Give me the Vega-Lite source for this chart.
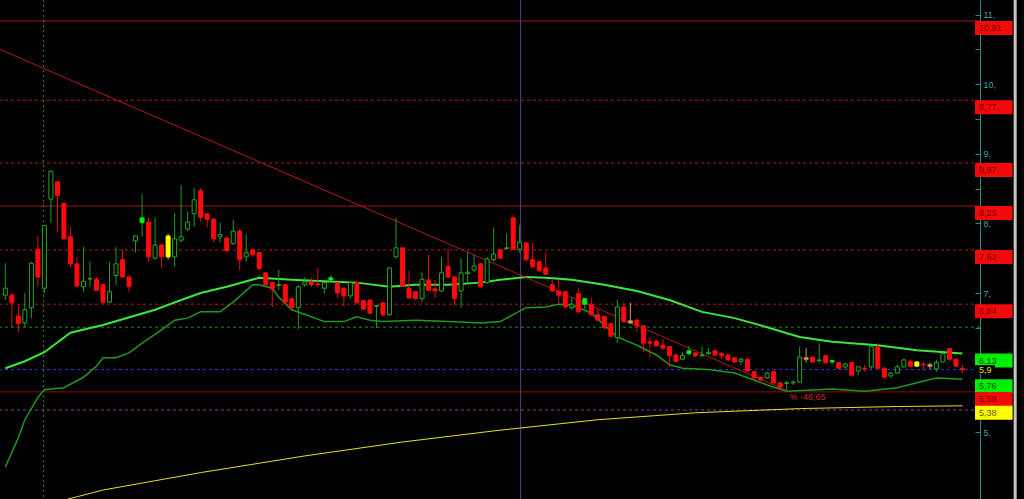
{
  "$schema": "https://vega.github.io/schema/vega-lite/v6.json",
  "width": 980,
  "height": 499,
  "autosize": {"type": "none"},
  "padding": {"left": 0, "top": 0, "right": 44, "bottom": 0},
  "background": "#000000",
  "config": {"view": {"stroke": null}, "text": {"font": "Liberation Sans"}},
  "datasets": {
    "levels": [
      {"price": 10.91, "kind": "major"},
      {"price": 9.77, "kind": "minor"},
      {"price": 8.87, "kind": "minor"},
      {"price": 8.25, "kind": "major"},
      {"price": 7.62, "kind": "minor"},
      {"price": 6.84, "kind": "minor"},
      {"price": 6.51, "kind": "mid"},
      {"price": 5.9, "kind": "last"},
      {"price": 5.58, "kind": "low"},
      {"price": 5.32, "kind": "floor"}
    ],
    "markers": [
      {"day": 5.88, "kind": "session"},
      {"day": 79.15, "kind": "cursor"}
    ],
    "averages": [
      {"day": 0, "value": 5.92, "series": "MA50"}, {"day": 3, "value": 6.02, "series": "MA50"},
      {"day": 6, "value": 6.15, "series": "MA50"}, {"day": 10, "value": 6.43, "series": "MA50"},
      {"day": 15, "value": 6.54, "series": "MA50"}, {"day": 23, "value": 6.76, "series": "MA50"},
      {"day": 27, "value": 6.9, "series": "MA50"}, {"day": 30, "value": 7.0, "series": "MA50"},
      {"day": 34, "value": 7.09, "series": "MA50"}, {"day": 39, "value": 7.22, "series": "MA50"},
      {"day": 44, "value": 7.19, "series": "MA50"}, {"day": 49, "value": 7.17, "series": "MA50"},
      {"day": 54, "value": 7.15, "series": "MA50"}, {"day": 59, "value": 7.09, "series": "MA50"},
      {"day": 63, "value": 7.12, "series": "MA50"}, {"day": 68, "value": 7.12, "series": "MA50"},
      {"day": 73, "value": 7.15, "series": "MA50"}, {"day": 76, "value": 7.19, "series": "MA50"},
      {"day": 80, "value": 7.23, "series": "MA50"}, {"day": 83, "value": 7.22, "series": "MA50"},
      {"day": 87, "value": 7.19, "series": "MA50"}, {"day": 92, "value": 7.12, "series": "MA50"},
      {"day": 97, "value": 7.03, "series": "MA50"}, {"day": 102, "value": 6.9, "series": "MA50"},
      {"day": 107, "value": 6.73, "series": "MA50"}, {"day": 112, "value": 6.64, "series": "MA50"},
      {"day": 117, "value": 6.51, "series": "MA50"}, {"day": 122, "value": 6.37, "series": "MA50"},
      {"day": 127, "value": 6.3, "series": "MA50"}, {"day": 134, "value": 6.25, "series": "MA50"},
      {"day": 140, "value": 6.18, "series": "MA50"}, {"day": 147, "value": 6.13, "series": "MA50"},

      {"day": 0, "value": 4.5, "series": "Low band"}, {"day": 2, "value": 4.92, "series": "Low band"},
      {"day": 3, "value": 5.18, "series": "Low band"}, {"day": 5, "value": 5.5, "series": "Low band"},
      {"day": 6, "value": 5.61, "series": "Low band"}, {"day": 9, "value": 5.64, "series": "Low band"},
      {"day": 12, "value": 5.79, "series": "Low band"}, {"day": 14, "value": 5.95, "series": "Low band"},
      {"day": 15, "value": 6.07, "series": "Low band"}, {"day": 17, "value": 6.07, "series": "Low band"},
      {"day": 19, "value": 6.14, "series": "Low band"}, {"day": 21, "value": 6.28, "series": "Low band"},
      {"day": 24, "value": 6.47, "series": "Low band"}, {"day": 26, "value": 6.61, "series": "Low band"},
      {"day": 28, "value": 6.64, "series": "Low band"}, {"day": 30, "value": 6.73, "series": "Low band"},
      {"day": 33, "value": 6.73, "series": "Low band"}, {"day": 35, "value": 6.87, "series": "Low band"},
      {"day": 38, "value": 7.12, "series": "Low band"}, {"day": 39, "value": 7.12, "series": "Low band"},
      {"day": 41, "value": 7.07, "series": "Low band"}, {"day": 42, "value": 6.94, "series": "Low band"},
      {"day": 44, "value": 6.76, "series": "Low band"}, {"day": 47, "value": 6.66, "series": "Low band"},
      {"day": 49, "value": 6.59, "series": "Low band"}, {"day": 52, "value": 6.59, "series": "Low band"},
      {"day": 54, "value": 6.66, "series": "Low band"}, {"day": 56, "value": 6.61, "series": "Low band"},
      {"day": 58, "value": 6.59, "series": "Low band"}, {"day": 63, "value": 6.61, "series": "Low band"},
      {"day": 68, "value": 6.59, "series": "Low band"}, {"day": 73, "value": 6.57, "series": "Low band"},
      {"day": 76, "value": 6.59, "series": "Low band"}, {"day": 78, "value": 6.69, "series": "Low band"},
      {"day": 80, "value": 6.79, "series": "Low band"}, {"day": 83, "value": 6.8, "series": "Low band"},
      {"day": 85, "value": 6.84, "series": "Low band"}, {"day": 87, "value": 6.83, "series": "Low band"},
      {"day": 90, "value": 6.71, "series": "Low band"}, {"day": 92, "value": 6.54, "series": "Low band"},
      {"day": 94, "value": 6.37, "series": "Low band"}, {"day": 97, "value": 6.25, "series": "Low band"},
      {"day": 100, "value": 6.11, "series": "Low band"}, {"day": 102, "value": 5.97, "series": "Low band"},
      {"day": 104, "value": 5.92, "series": "Low band"}, {"day": 108, "value": 5.9, "series": "Low band"},
      {"day": 112, "value": 5.85, "series": "Low band"}, {"day": 115, "value": 5.75, "series": "Low band"},
      {"day": 117, "value": 5.68, "series": "Low band"}, {"day": 120, "value": 5.59, "series": "Low band"},
      {"day": 127, "value": 5.62, "series": "Low band"}, {"day": 132, "value": 5.59, "series": "Low band"},
      {"day": 137, "value": 5.64, "series": "Low band"}, {"day": 140, "value": 5.71, "series": "Low band"},
      {"day": 143, "value": 5.78, "series": "Low band"}, {"day": 147, "value": 5.76, "series": "Low band"},

      {"day": 8, "value": 4.0, "series": "MA200"}, {"day": 15, "value": 4.17, "series": "MA200"},
      {"day": 30, "value": 4.42, "series": "MA200"}, {"day": 46, "value": 4.66, "series": "MA200"},
      {"day": 61, "value": 4.86, "series": "MA200"}, {"day": 76, "value": 5.03, "series": "MA200"},
      {"day": 91, "value": 5.18, "series": "MA200"}, {"day": 106, "value": 5.28, "series": "MA200"},
      {"day": 122, "value": 5.34, "series": "MA200"}, {"day": 137, "value": 5.37, "series": "MA200"},
      {"day": 147, "value": 5.38, "series": "MA200"}
    ],
    "trend": [
      {"day": -10.9, "price": 10.91},
      {"day": 120, "price": 5.6}
    ],
    "notes": [
      {"day": 120.45, "price": 5.5, "label": "% -48,65"}
    ],
    "tags": [
      {"price": 10.91, "label": "10,91", "tone": "red"},
      {"price": 9.77, "label": "9,77", "tone": "red"},
      {"price": 8.87, "label": "8,87", "tone": "red"},
      {"price": 8.25, "label": "8,25", "tone": "red"},
      {"price": 7.62, "label": "7,62", "tone": "red"},
      {"price": 6.84, "label": "6,84", "tone": "red"},
      {"price": 6.13, "label": "6,13", "tone": "green"},
      {"price": 5.76, "label": "5,76", "tone": "green"},
      {"price": 5.58, "label": "5,58", "tone": "red"},
      {"price": 5.38, "label": "5,38", "tone": "yellow"}
    ],
    "lastPrice": [
      {"price": 5.9, "label": "5,9"}
    ],
    "frame": [
      {"day": 155.1}
    ],
    "candles": [
      {"day": 0, "open": 6.97, "high": 7.43, "low": 6.9, "close": 7.07, "kind": "up"},
      {"day": 1, "open": 6.97, "high": 7.0, "low": 6.51, "close": 6.86, "kind": "down"},
      {"day": 2, "open": 6.67, "high": 6.83, "low": 6.44, "close": 6.56, "kind": "down"},
      {"day": 3, "open": 6.57, "high": 7.0, "low": 6.51, "close": 6.76, "kind": "up"},
      {"day": 4, "open": 6.79, "high": 7.45, "low": 6.64, "close": 7.43, "kind": "up"},
      {"day": 5, "open": 7.63, "high": 7.82, "low": 7.09, "close": 7.23, "kind": "down"},
      {"day": 6, "open": 7.07, "high": 7.98, "low": 7.0, "close": 7.97, "kind": "up"},
      {"day": 7, "open": 8.35, "high": 8.76, "low": 8.01, "close": 8.75, "kind": "up"},
      {"day": 8, "open": 8.6, "high": 8.61, "low": 7.88, "close": 8.4, "kind": "down"},
      {"day": 9, "open": 8.29, "high": 8.3, "low": 7.76, "close": 7.78, "kind": "down"},
      {"day": 10, "open": 7.81, "high": 7.95, "low": 7.36, "close": 7.42, "kind": "down"},
      {"day": 11, "open": 7.42, "high": 7.52, "low": 7.09, "close": 7.1, "kind": "down"},
      {"day": 12, "open": 7.09, "high": 7.66, "low": 7.02, "close": 7.17, "kind": "up"},
      {"day": 13, "open": 7.2, "high": 7.46, "low": 7.09, "close": 7.21, "kind": "up"},
      {"day": 14, "open": 7.2, "high": 7.23, "low": 7.03, "close": 7.04, "kind": "down"},
      {"day": 15, "open": 7.12, "high": 7.13, "low": 6.84, "close": 6.87, "kind": "down"},
      {"day": 16, "open": 6.87, "high": 7.45, "low": 6.86, "close": 7.02, "kind": "up"},
      {"day": 17, "open": 7.25, "high": 7.66, "low": 7.12, "close": 7.42, "kind": "up"},
      {"day": 18, "open": 7.48, "high": 7.62, "low": 7.22, "close": 7.23, "kind": "down"},
      {"day": 19, "open": 7.23, "high": 7.26, "low": 7.02, "close": 7.09, "kind": "down"},
      {"day": 20, "open": 7.75, "high": 7.83, "low": 7.58, "close": 7.82, "kind": "up"},
      {"day": 21, "open": 8.01, "high": 8.42, "low": 7.81, "close": 8.08, "kind": "buy"},
      {"day": 22, "open": 8.02, "high": 8.09, "low": 7.45, "close": 7.52, "kind": "down"},
      {"day": 23, "open": 7.5, "high": 8.08, "low": 7.48, "close": 7.69, "kind": "up"},
      {"day": 24, "open": 7.69, "high": 7.71, "low": 7.36, "close": 7.52, "kind": "down"},
      {"day": 25, "open": 7.52, "high": 7.85, "low": 7.48, "close": 7.82, "kind": "alert"},
      {"day": 26, "open": 7.52, "high": 8.15, "low": 7.38, "close": 7.78, "kind": "up"},
      {"day": 27, "open": 7.76, "high": 8.55, "low": 7.73, "close": 7.81, "kind": "up"},
      {"day": 28, "open": 7.92, "high": 8.17, "low": 7.89, "close": 8.02, "kind": "up"},
      {"day": 29, "open": 8.14, "high": 8.51, "low": 7.95, "close": 8.34, "kind": "up"},
      {"day": 30, "open": 8.47, "high": 8.51, "low": 8.02, "close": 8.09, "kind": "down"},
      {"day": 31, "open": 8.14, "high": 8.15, "low": 7.94, "close": 8.06, "kind": "down"},
      {"day": 32, "open": 8.06, "high": 8.08, "low": 7.73, "close": 7.78, "kind": "down"},
      {"day": 33, "open": 7.81, "high": 8.01, "low": 7.73, "close": 7.84, "kind": "up"},
      {"day": 34, "open": 7.79, "high": 7.82, "low": 7.59, "close": 7.61, "kind": "down"},
      {"day": 35, "open": 7.71, "high": 8.05, "low": 7.69, "close": 7.89, "kind": "up"},
      {"day": 36, "open": 7.89, "high": 7.92, "low": 7.33, "close": 7.48, "kind": "down"},
      {"day": 37, "open": 7.52, "high": 7.84, "low": 7.45, "close": 7.58, "kind": "up"},
      {"day": 38, "open": 7.62, "high": 7.63, "low": 7.52, "close": 7.55, "kind": "down"},
      {"day": 39, "open": 7.58, "high": 7.59, "low": 7.33, "close": 7.35, "kind": "down"},
      {"day": 40, "open": 7.29, "high": 7.3, "low": 7.1, "close": 7.12, "kind": "down"},
      {"day": 41, "open": 7.15, "high": 7.16, "low": 6.8, "close": 7.06, "kind": "down"},
      {"day": 42, "open": 7.11, "high": 7.33, "low": 7.04, "close": 7.12, "kind": "up"},
      {"day": 43, "open": 7.12, "high": 7.13, "low": 6.86, "close": 6.87, "kind": "down"},
      {"day": 44, "open": 6.92, "high": 6.93, "low": 6.76, "close": 6.79, "kind": "down"},
      {"day": 45, "open": 6.79, "high": 7.12, "low": 6.48, "close": 7.09, "kind": "up"},
      {"day": 46, "open": 7.12, "high": 7.23, "low": 7.09, "close": 7.16, "kind": "up"},
      {"day": 47, "open": 7.16, "high": 7.22, "low": 7.09, "close": 7.12, "kind": "down"},
      {"day": 48, "open": 7.13, "high": 7.36, "low": 7.09, "close": 7.12, "kind": "down"},
      {"day": 49, "open": 7.07, "high": 7.16, "low": 6.99, "close": 7.15, "kind": "up"},
      {"day": 50, "open": 7.19, "high": 7.26, "low": 7.17, "close": 7.22, "kind": "buy"},
      {"day": 51, "open": 7.15, "high": 7.16, "low": 6.93, "close": 7.0, "kind": "down"},
      {"day": 52, "open": 7.07, "high": 7.09, "low": 6.8, "close": 6.96, "kind": "down"},
      {"day": 53, "open": 6.96, "high": 7.16, "low": 6.92, "close": 7.15, "kind": "up"},
      {"day": 54, "open": 7.15, "high": 7.16, "low": 6.85, "close": 6.86, "kind": "down"},
      {"day": 55, "open": 6.89, "high": 6.9, "low": 6.76, "close": 6.77, "kind": "down"},
      {"day": 56, "open": 6.9, "high": 6.91, "low": 6.7, "close": 6.71, "kind": "down"},
      {"day": 57, "open": 6.81, "high": 6.83, "low": 6.5, "close": 6.82, "kind": "up"},
      {"day": 58, "open": 6.86, "high": 6.87, "low": 6.66, "close": 6.69, "kind": "down"},
      {"day": 59, "open": 6.69, "high": 7.37, "low": 6.67, "close": 7.36, "kind": "up"},
      {"day": 60, "open": 7.52, "high": 8.08, "low": 7.5, "close": 7.65, "kind": "up"},
      {"day": 61, "open": 7.65, "high": 7.66, "low": 7.09, "close": 7.1, "kind": "down"},
      {"day": 62, "open": 7.07, "high": 7.32, "low": 6.92, "close": 6.93, "kind": "down"},
      {"day": 63, "open": 7.02, "high": 7.03, "low": 6.9, "close": 6.92, "kind": "down"},
      {"day": 64, "open": 6.92, "high": 7.3, "low": 6.87, "close": 7.2, "kind": "up"},
      {"day": 65, "open": 7.19, "high": 7.55, "low": 7.03, "close": 7.04, "kind": "down"},
      {"day": 66, "open": 7.06, "high": 7.19, "low": 6.93, "close": 7.03, "kind": "down"},
      {"day": 67, "open": 7.03, "high": 7.52, "low": 7.02, "close": 7.29, "kind": "up"},
      {"day": 68, "open": 7.38, "high": 7.63, "low": 7.22, "close": 7.23, "kind": "down"},
      {"day": 69, "open": 7.23, "high": 7.25, "low": 6.82, "close": 6.92, "kind": "down"},
      {"day": 70, "open": 7.03, "high": 7.5, "low": 6.79, "close": 7.29, "kind": "up"},
      {"day": 71, "open": 7.28, "high": 7.59, "low": 7.15, "close": 7.3, "kind": "up"},
      {"day": 72, "open": 7.33, "high": 7.55, "low": 7.3, "close": 7.39, "kind": "up"},
      {"day": 73, "open": 7.42, "high": 7.43, "low": 7.08, "close": 7.09, "kind": "down"},
      {"day": 74, "open": 7.15, "high": 7.52, "low": 7.13, "close": 7.49, "kind": "up"},
      {"day": 75, "open": 7.48, "high": 7.94, "low": 7.45, "close": 7.56, "kind": "up"},
      {"day": 76, "open": 7.62, "high": 7.63, "low": 7.49, "close": 7.5, "kind": "down"},
      {"day": 77, "open": 7.64, "high": 7.86, "low": 7.62, "close": 7.65, "kind": "up"},
      {"day": 78, "open": 8.08, "high": 8.12, "low": 7.62, "close": 7.63, "kind": "down"},
      {"day": 79, "open": 7.63, "high": 7.98, "low": 7.58, "close": 7.73, "kind": "up"},
      {"day": 80, "open": 7.72, "high": 7.73, "low": 7.45, "close": 7.48, "kind": "down"},
      {"day": 81, "open": 7.48, "high": 7.72, "low": 7.36, "close": 7.38, "kind": "down"},
      {"day": 82, "open": 7.45, "high": 7.46, "low": 7.3, "close": 7.32, "kind": "down"},
      {"day": 83, "open": 7.36, "high": 7.58, "low": 7.26, "close": 7.27, "kind": "down"},
      {"day": 84, "open": 7.12, "high": 7.19, "low": 7.02, "close": 7.03, "kind": "down"},
      {"day": 85, "open": 7.03, "high": 7.19, "low": 6.86, "close": 6.97, "kind": "down"},
      {"day": 86, "open": 7.02, "high": 7.03, "low": 6.79, "close": 6.8, "kind": "down"},
      {"day": 87, "open": 6.79, "high": 6.94, "low": 6.76, "close": 6.84, "kind": "up"},
      {"day": 88, "open": 6.99, "high": 7.07, "low": 6.71, "close": 6.73, "kind": "down"},
      {"day": 89, "open": 6.84, "high": 6.92, "low": 6.77, "close": 6.92, "kind": "buy"},
      {"day": 90, "open": 6.84, "high": 6.93, "low": 6.67, "close": 6.69, "kind": "down"},
      {"day": 91, "open": 6.69, "high": 6.77, "low": 6.6, "close": 6.61, "kind": "down"},
      {"day": 92, "open": 6.66, "high": 6.67, "low": 6.48, "close": 6.5, "kind": "down"},
      {"day": 93, "open": 6.56, "high": 6.57, "low": 6.37, "close": 6.38, "kind": "down"},
      {"day": 94, "open": 6.36, "high": 6.9, "low": 6.28, "close": 6.8, "kind": "up"},
      {"day": 95, "open": 6.8, "high": 6.86, "low": 6.57, "close": 6.59, "kind": "down"},
      {"day": 96, "open": 6.6, "high": 6.86, "low": 6.56, "close": 6.57, "kind": "neutral"},
      {"day": 97, "open": 6.61, "high": 6.64, "low": 6.44, "close": 6.53, "kind": "down"},
      {"day": 98, "open": 6.53, "high": 6.54, "low": 6.15, "close": 6.28, "kind": "down"},
      {"day": 99, "open": 6.3, "high": 6.37, "low": 6.07, "close": 6.28, "kind": "down"},
      {"day": 100, "open": 6.31, "high": 6.33, "low": 6.23, "close": 6.24, "kind": "down"},
      {"day": 101, "open": 6.25, "high": 6.34, "low": 6.18, "close": 6.21, "kind": "down"},
      {"day": 102, "open": 6.23, "high": 6.24, "low": 5.94, "close": 6.1, "kind": "down"},
      {"day": 103, "open": 6.11, "high": 6.13, "low": 6.01, "close": 6.02, "kind": "down"},
      {"day": 104, "open": 6.05, "high": 6.15, "low": 6.04, "close": 6.1, "kind": "up"},
      {"day": 105, "open": 6.13, "high": 6.24, "low": 6.1, "close": 6.17, "kind": "buy"},
      {"day": 106, "open": 6.14, "high": 6.15, "low": 6.08, "close": 6.1, "kind": "down"},
      {"day": 107, "open": 6.1, "high": 6.23, "low": 6.08, "close": 6.11, "kind": "up"},
      {"day": 108, "open": 6.13, "high": 6.21, "low": 6.11, "close": 6.15, "kind": "up"},
      {"day": 109, "open": 6.17, "high": 6.2, "low": 6.1, "close": 6.11, "kind": "down"},
      {"day": 110, "open": 6.13, "high": 6.15, "low": 6.05, "close": 6.1, "kind": "down"},
      {"day": 111, "open": 6.11, "high": 6.13, "low": 6.02, "close": 6.04, "kind": "down"},
      {"day": 112, "open": 6.07, "high": 6.08, "low": 6.0, "close": 6.01, "kind": "down"},
      {"day": 113, "open": 6.02, "high": 6.07, "low": 5.97, "close": 6.05, "kind": "up"},
      {"day": 114, "open": 6.05, "high": 6.06, "low": 5.87, "close": 5.88, "kind": "down"},
      {"day": 115, "open": 5.87, "high": 5.88, "low": 5.77, "close": 5.78, "kind": "down"},
      {"day": 116, "open": 5.79, "high": 5.8, "low": 5.74, "close": 5.75, "kind": "down"},
      {"day": 117, "open": 5.78, "high": 5.87, "low": 5.77, "close": 5.85, "kind": "up"},
      {"day": 118, "open": 5.87, "high": 5.88, "low": 5.7, "close": 5.71, "kind": "down"},
      {"day": 119, "open": 5.71, "high": 5.72, "low": 5.61, "close": 5.65, "kind": "down"},
      {"day": 120, "open": 5.7, "high": 5.74, "low": 5.6, "close": 5.71, "kind": "up"},
      {"day": 121, "open": 5.71, "high": 5.75, "low": 5.68, "close": 5.72, "kind": "up"},
      {"day": 122, "open": 5.72, "high": 6.23, "low": 5.71, "close": 6.08, "kind": "up"},
      {"day": 123, "open": 6.07, "high": 6.21, "low": 6.0, "close": 6.05, "kind": "neutral"},
      {"day": 124, "open": 6.08, "high": 6.09, "low": 6.0, "close": 6.01, "kind": "down"},
      {"day": 125, "open": 6.03, "high": 6.28, "low": 6.0, "close": 6.04, "kind": "up"},
      {"day": 126, "open": 6.1, "high": 6.11, "low": 5.98, "close": 6.0, "kind": "down"},
      {"day": 127, "open": 6.01, "high": 6.04, "low": 5.98, "close": 6.03, "kind": "buy"},
      {"day": 128, "open": 6.0, "high": 6.01, "low": 5.91, "close": 5.92, "kind": "down"},
      {"day": 129, "open": 5.94, "high": 6.0, "low": 5.9, "close": 5.98, "kind": "up"},
      {"day": 130, "open": 6.0, "high": 6.01, "low": 5.81, "close": 5.82, "kind": "down"},
      {"day": 131, "open": 5.88, "high": 5.95, "low": 5.82, "close": 5.94, "kind": "up"},
      {"day": 132, "open": 5.92, "high": 5.97, "low": 5.87, "close": 5.91, "kind": "down"},
      {"day": 133, "open": 5.94, "high": 6.25, "low": 5.91, "close": 6.23, "kind": "up"},
      {"day": 134, "open": 6.23, "high": 6.28, "low": 5.91, "close": 5.92, "kind": "down"},
      {"day": 135, "open": 5.92, "high": 5.94, "low": 5.78, "close": 5.79, "kind": "down"},
      {"day": 136, "open": 5.81, "high": 5.87, "low": 5.79, "close": 5.85, "kind": "up"},
      {"day": 137, "open": 5.85, "high": 5.97, "low": 5.84, "close": 5.94, "kind": "up"},
      {"day": 138, "open": 5.94, "high": 6.05, "low": 5.93, "close": 6.04, "kind": "up"},
      {"day": 139, "open": 6.02, "high": 6.04, "low": 5.94, "close": 5.95, "kind": "down"},
      {"day": 140, "open": 5.95, "high": 6.02, "low": 5.94, "close": 6.01, "kind": "alert"},
      {"day": 141, "open": 5.98, "high": 6.01, "low": 5.9, "close": 5.97, "kind": "down"},
      {"day": 142, "open": 5.97, "high": 6.0, "low": 5.91, "close": 5.95, "kind": "neutral"},
      {"day": 143, "open": 5.91, "high": 6.04, "low": 5.87, "close": 6.0, "kind": "up"},
      {"day": 144, "open": 6.01, "high": 6.15, "low": 6.0, "close": 6.13, "kind": "up"},
      {"day": 145, "open": 6.2, "high": 6.21, "low": 6.02, "close": 6.05, "kind": "down"},
      {"day": 146, "open": 6.05, "high": 6.07, "low": 5.94, "close": 5.95, "kind": "down"},
      {"day": 147, "open": 5.92, "high": 5.97, "low": 5.85, "close": 5.9, "kind": "down"}
    ]
  },
  "resolve": {
    "scale": {
      "color": "independent",
      "fill": "independent",
      "stroke": "independent",
      "strokeDash": "independent",
      "strokeWidth": "independent"
    },
    "axis": {"x": "independent", "y": "independent"}
  },
  "layer": [
    {
      "data": {"name": "levels"},
      "mark": {"type": "rule"},
      "encoding": {
        "y": {
          "field": "price", "type": "quantitative",
          "scale": {"domain": [4.041, 11.211], "nice": false, "zero": false},
          "axis": {
            "orient": "right",
            "values": [5, 5.5, 6, 6.5, 7, 7.5, 8, 8.5, 9, 9.5, 10, 10.5, 11],
            "labelExpr": "datum.value % 1 == 0 && datum.value != 6 ? datum.value + ',' : ''",
            "title": null, "grid": false,
            "domainColor": "#2b8c8c", "tickColor": "#2b8c8c",
            "labelColor": "#3aa6a6", "labelFont": "Liberation Sans", "labelFontSize": 9,
            "tickSize": -5, "labelPadding": 8,
            "labelOverlap": false, "labelFlush": false, "labelBound": false,
            "labelAlign": "left", "labelBaseline": "middle"
          }
        },
        "color": {
          "field": "kind", "type": "nominal", "legend": null,
          "scale": {
            "domain": ["major", "minor", "mid", "last", "low", "floor"],
            "range": ["#a31616", "#b01a1a", "#1f8f1f", "#3a3ad0", "#8e0c0c", "#a22ea2"]
          }
        },
        "strokeDash": {
          "field": "kind", "type": "nominal", "legend": null,
          "scale": {
            "domain": ["major", "minor", "mid", "last", "low", "floor"],
            "range": [[1, 0], [3, 3], [3, 3], [3, 3], [1, 0], [3, 3]]
          }
        },
        "strokeWidth": {
          "field": "kind", "type": "nominal", "legend": null,
          "scale": {
            "domain": ["major", "minor", "mid", "last", "low", "floor"],
            "range": [1, 1, 1, 1, 2, 1]
          }
        }
      }
    },
    {
      "data": {"name": "markers"},
      "mark": {"type": "rule"},
      "encoding": {
        "x": {
          "field": "day", "type": "quantitative",
          "scale": {"domain": [-0.05, 148.93], "nice": false, "zero": false},
          "axis": null
        },
        "color": {
          "field": "kind", "type": "nominal", "legend": null,
          "scale": {"domain": ["session", "cursor"], "range": ["#2a8c2a", "#5e3e90"]}
        },
        "strokeDash": {
          "field": "kind", "type": "nominal", "legend": null,
          "scale": {"domain": ["session", "cursor"], "range": [[2, 3], [1, 0]]}
        }
      }
    },
    {
      "data": {"name": "averages"},
      "mark": {"type": "line", "clip": true},
      "encoding": {
        "x": {
          "field": "day", "type": "quantitative",
          "scale": {"domain": [-0.05, 148.93], "nice": false, "zero": false},
          "axis": null
        },
        "y": {
          "field": "value", "type": "quantitative",
          "scale": {"domain": [4.041, 11.211], "nice": false, "zero": false},
          "axis": null
        },
        "detail": {"field": "series"},
        "color": {
          "field": "series", "type": "nominal", "legend": null,
          "scale": {"domain": ["MA50", "Low band", "MA200"], "range": ["#3ae83a", "#1f981f", "#e8e022"]}
        },
        "strokeWidth": {
          "field": "series", "type": "nominal", "legend": null,
          "scale": {"domain": ["MA50", "Low band", "MA200"], "range": [2, 1, 2]}
        }
      }
    },
    {
      "data": {"name": "trend"},
      "mark": {"type": "line", "clip": true, "color": "#b21a1a", "strokeWidth": 1},
      "encoding": {
        "x": {
          "field": "day", "type": "quantitative",
          "scale": {"domain": [-0.05, 148.93], "nice": false, "zero": false},
          "axis": null
        },
        "y": {
          "field": "price", "type": "quantitative",
          "scale": {"domain": [4.041, 11.211], "nice": false, "zero": false},
          "axis": null
        }
      }
    },
    {
      "data": {"name": "candles"},
      "mark": {"type": "rule", "strokeWidth": 1},
      "encoding": {
        "x": {
          "field": "day", "type": "quantitative",
          "scale": {"domain": [-0.05, 148.93], "nice": false, "zero": false},
          "axis": null
        },
        "y": {
          "field": "low", "type": "quantitative",
          "scale": {"domain": [4.041, 11.211], "nice": false, "zero": false},
          "axis": null
        },
        "y2": {"field": "high"},
        "color": {
          "field": "kind", "type": "nominal", "legend": null,
          "scale": {
            "domain": ["up", "down", "buy", "alert", "neutral"],
            "range": ["#1f9e1f", "#dd1010", "#1f9e1f", "#d8c400", "#c8a050"]
          }
        }
      }
    },
    {
      "data": {"name": "candles"},
      "mark": {"type": "bar", "size": 4, "strokeWidth": 1},
      "encoding": {
        "x": {
          "field": "day", "type": "quantitative",
          "scale": {"domain": [-0.05, 148.93], "nice": false, "zero": false},
          "axis": null
        },
        "y": {
          "field": "open", "type": "quantitative",
          "scale": {"domain": [4.041, 11.211], "nice": false, "zero": false},
          "axis": null
        },
        "y2": {"field": "close"},
        "fill": {
          "field": "kind", "type": "nominal", "legend": null,
          "scale": {
            "domain": ["up", "down", "buy", "alert", "neutral"],
            "range": ["#000000", "#ff0a0a", "#00f000", "#ffff00", "#c8a050"]
          }
        },
        "stroke": {
          "field": "kind", "type": "nominal", "legend": null,
          "scale": {
            "domain": ["up", "down", "buy", "alert", "neutral"],
            "range": ["#23a823", "#ff0a0a", "#00f000", "#ffff00", "#c8a050"]
          }
        }
      }
    },
    {
      "data": {"name": "notes"},
      "mark": {"type": "text", "align": "left", "baseline": "middle", "fontSize": 9, "color": "#cc2a2a"},
      "encoding": {
        "x": {
          "field": "day", "type": "quantitative",
          "scale": {"domain": [-0.05, 148.93], "nice": false, "zero": false},
          "axis": null
        },
        "y": {
          "field": "price", "type": "quantitative",
          "scale": {"domain": [4.041, 11.211], "nice": false, "zero": false},
          "axis": null
        },
        "text": {"field": "label"}
      }
    },
    {
      "data": {"name": "tags"},
      "mark": {"type": "rect", "y2Offset": 14},
      "encoding": {
        "x": {"datum": 148.93, "type": "quantitative", "scale": {"domain": [-0.05, 148.93], "nice": false, "zero": false}, "axis": null},
        "x2": {"datum": 154.7},
        "y": {
          "field": "price", "type": "quantitative",
          "scale": {"domain": [4.041, 11.211], "nice": false, "zero": false},
          "axis": null
        },
        "y2": {"field": "price"},
        "color": {
          "field": "tone", "type": "nominal", "legend": null,
          "scale": {"domain": ["red", "green", "yellow"], "range": ["#f20a0a", "#00ee00", "#ffff00"]}
        }
      }
    },
    {
      "data": {"name": "tags"},
      "mark": {"type": "text", "align": "left", "baseline": "middle", "dy": 7, "fontSize": 9},
      "encoding": {
        "x": {"datum": 149.55, "type": "quantitative", "scale": {"domain": [-0.05, 148.93], "nice": false, "zero": false}, "axis": null},
        "y": {
          "field": "price", "type": "quantitative",
          "scale": {"domain": [4.041, 11.211], "nice": false, "zero": false},
          "axis": null
        },
        "text": {"field": "label"},
        "color": {
          "field": "tone", "type": "nominal", "legend": null,
          "scale": {"domain": ["red", "green", "yellow"], "range": ["#7c0000", "#005400", "#6e5600"]}
        }
      }
    },
    {
      "data": {"name": "lastPrice"},
      "mark": {"type": "rect", "color": "#000000", "yOffset": -4.5, "y2Offset": 4.5},
      "encoding": {
        "x": {"datum": 148.93, "type": "quantitative", "scale": {"domain": [-0.05, 148.93], "nice": false, "zero": false}, "axis": null},
        "x2": {"datum": 151.97},
        "y": {
          "field": "price", "type": "quantitative",
          "scale": {"domain": [4.041, 11.211], "nice": false, "zero": false},
          "axis": null
        },
        "y2": {"field": "price"}
      }
    },
    {
      "data": {"name": "lastPrice"},
      "mark": {"type": "text", "align": "left", "baseline": "middle", "fontSize": 9, "color": "#e6e020"},
      "encoding": {
        "x": {"datum": 149.55, "type": "quantitative", "scale": {"domain": [-0.05, 148.93], "nice": false, "zero": false}, "axis": null},
        "y": {
          "field": "price", "type": "quantitative",
          "scale": {"domain": [4.041, 11.211], "nice": false, "zero": false},
          "axis": null
        },
        "text": {"field": "label"}
      }
    },
    {
      "data": {"name": "frame"},
      "mark": {"type": "rule", "color": "#c4c4c4", "strokeWidth": 3},
      "encoding": {
        "x": {"field": "day", "type": "quantitative", "scale": {"domain": [-0.05, 148.93], "nice": false, "zero": false}, "axis": null}
      }
    }
  ]
}
